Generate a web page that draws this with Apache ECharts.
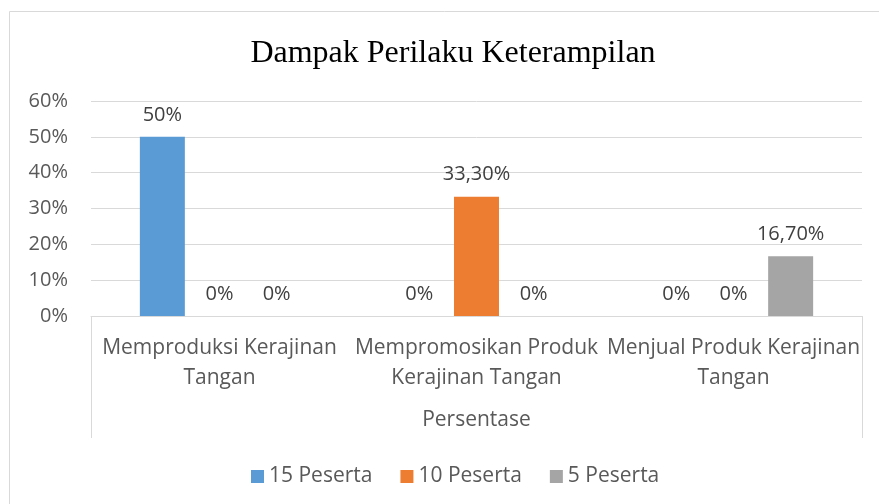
<!DOCTYPE html>
<html>
<head>
<meta charset="utf-8">
<script src="https://cdn.jsdelivr.net/npm/echarts@6/dist/echarts.min.js"></script>
<style>
  html, body { margin: 0; padding: 0; background: #fff; }
  #chart { width: 879px; height: 504px; }
</style>
</head>
<body>
<div id="chart"></div>
<script>
const categories = [
  "Memproduksi Kerajinan\nTangan",
  "Mempromosikan Produk\nKerajinan Tangan",
  "Menjual Produk Kerajinan\nTangan",
]
const groupLabel = ["Persentase"]
const seriesNames = ["15 Peserta", "10 Peserta", "5 Peserta"]
const peserta15 = [50, 0, 0]
const peserta10 = [0, 33.3, 0]
const peserta5 = [0, 0, 16.7]
const colors = ["#5B9BD5", "#ED7D31", "#A5A5A5"]

const FONT = "Open Sans"

function pct(v) {
  return Number.isInteger(v) ? v + "%" : v.toFixed(2).replace(".", ",") + "%"
}

const chart = echarts.init(document.getElementById("chart"), null, { renderer: "canvas" })

const makeSeries = (name, data, color) => ({
  name,
  type: "bar",
  data,
  barWidth: 45,
  barGap: "27%",
  itemStyle: { color },
  label: {
    show: true,
    position: "top",
    distance: 12,
    color: "#404040",
    fontFamily: FONT,
    fontSize: 20,
    formatter: (p) => pct(p.value),
  },
})

chart.setOption({
  animation: false,
  graphic: [
    {
      type: "rect",
      shape: { x: 9.5, y: 11.5, width: 900, height: 520 },
      style: { fill: "none", stroke: "#d9d9d9", lineWidth: 1 },
      silent: true,
    },
  ],
  title: {
    text: "Dampak Perilaku Keterampilan",
    left: 448,
    textAlign: "center",
    top: 33,
    textStyle: {
      fontFamily: "Liberation Serif",
      fontWeight: "normal",
      fontSize: 32,
      color: "#000",
    },
  },
  legend: {
    data: seriesNames,
    left: 246,
    top: 461,
    itemWidth: 13,
    itemHeight: 13,
    itemGap: 28,
    icon: "rect",
    textStyle: { fontFamily: FONT, fontSize: 21, color: "#595959" },
  },
  grid: { left: 91, right: 17, top: 101, bottom: 188, containLabel: false },
  xAxis: [
    {
      type: "category",
      data: categories,
      axisLine: { lineStyle: { color: "#d9d9d9", width: 1 } },
      axisTick: { show: false },
      axisLabel: {
        interval: 0,
        margin: 17,
        color: "#595959",
        fontFamily: FONT,
        fontSize: 21,
        lineHeight: 30,
      },
    },
    {
      type: "category",
      data: groupLabel,
      position: "bottom",
      axisLine: { show: false },
      axisTick: { show: true, length: 122, lineStyle: { color: "#d9d9d9" } },
      axisLabel: {
        margin: 94,
        color: "#595959",
        fontFamily: FONT,
        fontSize: 21,
      },
    },
  ],
  yAxis: {
    type: "value",
    min: 0,
    max: 60,
    interval: 10,
    axisLine: { show: false },
    axisTick: { show: false },
    splitLine: { lineStyle: { color: "#d9d9d9", width: 1 } },
    axisLabel: {
      margin: 23,
      color: "#595959",
      fontFamily: FONT,
      fontSize: 20,
      formatter: "{value}%",
    },
  },
  series: [
    makeSeries(seriesNames[0], peserta15, colors[0]),
    makeSeries(seriesNames[1], peserta10, colors[1]),
    makeSeries(seriesNames[2], peserta5, colors[2]),
  ],
})
</script>
</body>
</html>
